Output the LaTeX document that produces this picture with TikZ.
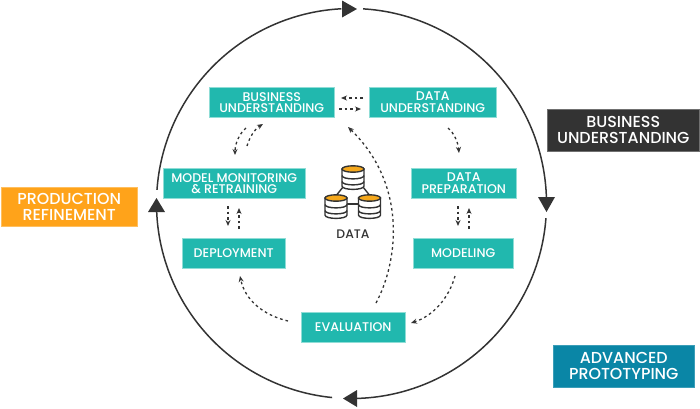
\documentclass[tikz,border=0pt]{standalone}
\usepackage{fontspec}
\setmainfont{Poppins}
\usetikzlibrary{arrows.meta}
\definecolor{tealbox}{HTML}{21B8AE}
\definecolor{tealedge}{HTML}{8FDDD6}
\definecolor{ink}{HTML}{333333}
\definecolor{orangebox}{HTML}{FFA31A}
\definecolor{bluebox}{HTML}{0A86A6}
\definecolor{dbgold}{HTML}{F5A81C}
\newfontface\lblfont{Poppins Medium}
\tikzset{
  x=1pt,y=-1pt,
  box/.style={draw=tealedge,line width=0.5pt,fill=tealbox,text=white,font=\lblfont\fontsize{12.6}{11.2}\selectfont,align=center,inner sep=0pt,anchor=north west},
  band/.style={box,font=\lblfont\fontsize{15.9}{15.8}\selectfont},
  flow/.style={ink,line width=1.3pt,dash pattern=on 2.6pt off 3pt,-{Stealth[length=6pt,width=5pt]}},
  ring/.style={ink,line width=1.5pt},
  tri/.style={fill=ink,draw=none},
  disc/.style={draw=ink,line width=1.4pt,fill=white},
}
\newcommand{\dbcyl}[3]{% center x, top y, name
  \begin{scope}[shift={(#1,#2)}]
    \path[disc] (-11,0) -- (-11,17) .. controls (-11,21.5) and (11,21.5) .. (11,17) -- (11,0) -- cycle;
    \draw[ink,line width=1.4pt] (-11,6.5) .. controls (-11,11) and (11,11) .. (11,6.5);
    \draw[ink,line width=1.4pt] (-11,12.5) .. controls (-11,17) and (11,17) .. (11,12.5);
    \path[draw=ink,line width=1.4pt,fill=dbgold] (0,0) ellipse [x radius=11,y radius=3.2];
  \end{scope}
}
\begin{document}
\begin{tikzpicture}
\useasboundingbox (0,0) rectangle (700,408);
% ring
\draw[ring] plot[domain=-86.6:-1.5,samples=70] ({351.5+195*cos(\x)},{203.5+195*sin(\x)});
\draw[ring] plot[domain=4.3:88.4,samples=70] ({351.5+195*cos(\x)},{203.5+195*sin(\x)});
\draw[ring] plot[domain=95.7:177.5,samples=70] ({351.5+195*cos(\x)},{203.5+195*sin(\x)});
\draw[ring] plot[domain=184:267,samples=70] ({351.5+195*cos(\x)},{203.5+195*sin(\x)});
\fill[tri] (357,9) -- (342,0.5) -- (342,17.5) -- cycle;
\fill[tri] (546.5,212) -- (538,197) -- (555,197) -- cycle;
\fill[tri] (343,398.5) -- (357,390) -- (357,407) -- cycle;
\fill[tri] (156.5,198) -- (148,212) -- (165,212) -- cycle;
% boxes
\node[box,minimum width=125pt,minimum height=30pt] (bu) at (209,87) {BUSINESS\\UNDERSTANDING};
\node[box,minimum width=127pt,minimum height=30pt] (du) at (369,87) {DATA\\UNDERSTANDING};
\node[box,minimum width=142pt,minimum height=30pt] (mm) at (163,168) {MODEL MONITORING\\\& RETRAINING};
\node[box,minimum width=105pt,minimum height=30pt] (dp) at (411,168) {DATA\\PREPARATION};
\node[box,minimum width=103pt,minimum height=30pt] (dep) at (182,238) {DEPLOYMENT};
\node[box,minimum width=100pt,minimum height=30pt] (mod) at (413,238) {MODELING};
\node[box,minimum width=104pt,minimum height=30pt] (ev) at (301,312) {EVALUATION};
\node[band,draw=orangebox!70,fill=orangebox,minimum width=136pt,minimum height=39pt] (prod) at (1,187) {PRODUCTION\\REFINEMENT};
\node[band,draw=ink!70,fill=ink,minimum width=152pt,minimum height=42pt] (biz) at (547,109) {BUSINESS\\UNDERSTANDING};
\node[band,draw=bluebox!80,fill=bluebox,minimum width=141pt,minimum height=42pt] (adv) at (553,345) {ADVANCED\\PROTOTYPING};
% connector ends
\coordinate (a1) at (363,98); \coordinate (a2) at (341,98);
\coordinate (b1) at (339,109); \coordinate (b2) at (361,109);
\coordinate (c1) at (246,128); \coordinate (c2) at (235,155);
\coordinate (d1) at (247,146); \coordinate (d2) at (263,124);
\coordinate (e1) at (448,128); \coordinate (e2) at (459,153);
\coordinate (f1) at (458,206); \coordinate (f2) at (458,226);
\coordinate (g1) at (469,229); \coordinate (g2) at (469,208);
\coordinate (h1) at (228,206); \coordinate (h2) at (228,226);
\coordinate (i1) at (239,229); \coordinate (i2) at (239,208);
\coordinate (j1) at (455,276); \coordinate (j2) at (411,323);
\coordinate (k1) at (288,321); \coordinate (k2) at (240,276);
\coordinate (l1) at (376,303); \coordinate (l2) at (348,127);
\draw[flow] (a1) -- (a2);
\draw[flow] (b1) -- (b2);
\draw[flow] (c1) .. controls (239,134) and (235,144) .. (c2);
\draw[flow] (d1) .. controls (250,136) and (255,129) .. (d2);
\draw[flow] (e1) .. controls (454,133) and (458,142) .. (e2);
\draw[flow] (f1) -- (f2);
\draw[flow] (g1) -- (g2);
\draw[flow] (h1) -- (h2);
\draw[flow] (i1) -- (i2);
\draw[flow] (j1) .. controls (449,298) and (433,316) .. (j2);
\draw[flow] (k1) .. controls (263,315) and (245,300) .. (k2);
\draw[flow] (l1) .. controls (398,262) and (408,185) .. (l2);
% database icon
\draw[ink,line width=1.4pt] (343,187) -- (335,197);
\draw[ink,line width=1.4pt] (363,187) -- (371,197);
\draw[ink,line width=1.4pt] (347,204) -- (358,204);
\dbcyl{353}{169}{top}
\dbcyl{336}{198}{left}
\dbcyl{369.5}{198}{right}
\node[font=\lblfont\fontsize{12.4}{12}\selectfont,text=ink,inner sep=0pt] (datalbl) at (353,234) {DATA};
\end{tikzpicture}
\end{document}
